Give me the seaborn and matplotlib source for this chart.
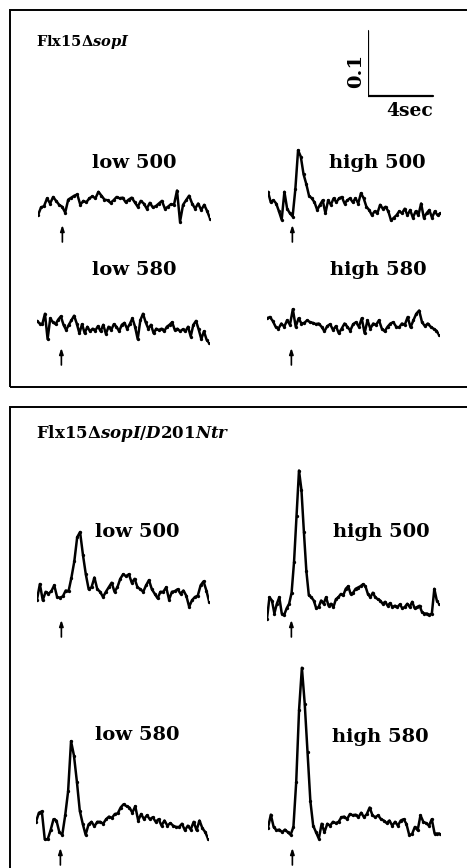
import numpy as np
import matplotlib
matplotlib.use("Agg")
import matplotlib.pyplot as plt
import matplotlib.transforms as mtransforms
from matplotlib.patches import Rectangle
import seaborn as sns

# Absorbance change traces, in units of 0.001 (mA), sampled evenly over DURATION seconds
low500_a = [12, 24, 26, 38, 30, 40, 34, 28, 25, 16, 36, 39, 42, 44, 28, 34, 32, 38, 41, 38,
            48, 42, 36, 35, 31, 35, 40, 38, 39, 32, 36, 39, 32, 25, 34, 30, 22, 31, 24, 26,
            30, 34, 22, 25, 29, 28, 50, 2, 28, 35, 42, 30, 22, 30, 20, 28, 18, 6]
high500_a = [48, 32, 35, 30, 18, 5, 48, 22, 15, 10, 52, 112, 102, 75, 60, 42, 38, 32, 20, 28,
             35, 15, 35, 28, 38, 32, 38, 40, 30, 35, 38, 32, 38, 30, 46, 38, 25, 20, 12, 18,
             15, 28, 22, 25, 18, 4, 8, 12, 18, 15, 22, 12, 20, 8, 18, 12, 30, 8, 15, 20,
             8, 18, 12, 15]
low580_a = [34, 30, 29, 45, 6, 38, 32, 29, 36, 41, 28, 20, 28, 35, 42, 30, 15, 29, 15, 25,
            18, 22, 19, 26, 18, 28, 14, 25, 20, 29, 25, 18, 28, 31, 22, 29, 38, 25, 6, 35,
            45, 32, 22, 28, 15, 22, 20, 22, 18, 25, 28, 32, 20, 22, 18, 21, 18, 25, 10, 28,
            34, 21, 6, 18, 5, 0]
high580_a = [38, 40, 34, 25, 22, 30, 25, 35, 28, 52, 25, 38, 30, 31, 35, 32, 31, 29, 30, 25,
             18, 26, 29, 20, 26, 15, 22, 30, 25, 19, 29, 32, 25, 38, 15, 35, 22, 30, 28, 35,
             22, 18, 25, 30, 32, 25, 24, 30, 28, 40, 24, 35, 45, 50, 32, 26, 30, 25, 22, 19, 12]
low500_b = [16, 40, 15, 28, 25, 29, 38, 20, 19, 21, 30, 29, 50, 75, 112, 120, 85, 55, 32, 35,
            50, 32, 28, 20, 28, 35, 42, 28, 35, 48, 55, 52, 55, 42, 48, 35, 32, 28, 38, 46,
            32, 25, 18, 28, 28, 35, 16, 28, 29, 32, 25, 30, 22, 5, 15, 20, 22, 38, 44, 30, 12]
high500_b = [2, 35, 30, 10, 25, 35, 10, 8, 18, 25, 42, 90, 160, 230, 200, 135, 75, 38, 35, 30,
             18, 20, 30, 25, 35, 22, 25, 20, 32, 35, 40, 38, 48, 52, 40, 42, 48, 50, 52, 55,
             52, 40, 35, 42, 35, 32, 30, 25, 28, 22, 26, 20, 22, 20, 24, 18, 20, 25, 20, 28,
             18, 20, 22, 12, 10, 10, 8, 10, 48, 30, 25]
low580_b = [28, 42, 44, 1, 1, 15, 32, 30, 12, 8, 38, 75, 152, 130, 90, 45, 25, 8, 24, 28,
            21, 28, 28, 25, 32, 36, 34, 40, 41, 50, 55, 52, 50, 42, 52, 30, 40, 32, 38, 32,
            35, 28, 32, 22, 30, 22, 26, 22, 20, 20, 25, 15, 22, 16, 28, 15, 30, 18, 12, 1]
high580_b = [19, 39, 20, 15, 16, 12, 16, 12, 8, 20, 90, 200, 265, 210, 135, 60, 22, 12, 2, 25,
             12, 25, 22, 28, 26, 28, 35, 36, 32, 40, 38, 39, 35, 42, 35, 40, 50, 38, 35, 38,
             32, 30, 26, 30, 22, 28, 22, 30, 32, 25, 8, 9, 20, 15, 38, 28, 26, 22, 32, 10,
             10, 10]

labels_a = ["low 500", "high 500", "low 580", "high 580"]
labels_b = ["low 500", "high 500", "low 580", "high 580"]
title_a = r"Flx15Δ$\mathit{sopI}$"
title_b = r"Flx15Δ$\mathit{sopI/D201Ntr}$"
DURATION = 10.6      # seconds per trace
FLASH_T = 1.5        # time of the flash (arrow)
SCALE_T = 4          # seconds, scale bar
SCALE_A = 100        # mA, scale bar (0.1)

# layout (pixels)
W, H = 467, 868
PX_PER_S = 16.25
PX_PER_MA = 0.65

sns.set_style("white")
plt.rcParams["font.family"] = ["DejaVu Serif", "DejaVu Sans"]
plt.rcParams["text.color"] = "black"
plt.rcParams["mathtext.fontset"] = "custom"
plt.rcParams["mathtext.it"] = "DejaVu Serif:italic:bold"
plt.rcParams["mathtext.rm"] = "DejaVu Serif:bold"

fig = plt.figure(figsize=(W / 100, H / 100), dpi=100)


def fx(px):
    return px / W


def fy(py):
    return 1 - py / H


def trace_axes(x0, y0, below=40, above=200):
    w = DURATION * PX_PER_S
    ax = fig.add_axes([fx(x0), fy(y0 + below), w / W, (below + above) / H])
    ax.set_xlim(0, DURATION)
    ax.set_ylim(-below / PX_PER_MA, above / PX_PER_MA)
    ax.axis("off")
    return ax


# panel boxes
for (top, bottom) in [(10, 387), (407, 880)]:
    fig.patches.append(Rectangle((fx(10), fy(bottom)), fx(480), (bottom - top) / H,
                                 transform=fig.transFigure, fill=False,
                                 edgecolor="black", lw=1.4, clip_on=False))

traces = [
    (low500_a, 38, 223, 242),
    (high500_a, 268, 223, 242),
    (low580_a, 37, 343, 365),
    (high580_a, 267, 343, 365),
    (low500_b, 37, 610, 637),
    (high500_b, 267, 620, 637),
    (low580_b, 36, 840, 865),
    (high580_b, 268, 840, 865),
]
for vals, x0, base, arrow_bottom in traces:
    ax = trace_axes(x0, base)
    t = np.linspace(0, DURATION, len(vals))
    sns.lineplot(x=t, y=vals, ax=ax, color="black", lw=1.8, marker="o",
                 markersize=2.4, markeredgewidth=0)
    tr = mtransforms.blended_transform_factory(ax.transData, fig.transFigure)
    ax.annotate("", xy=(FLASH_T, fy(arrow_bottom - 17)), xycoords=tr,
                xytext=(FLASH_T, fy(arrow_bottom)), textcoords=tr,
                arrowprops=dict(arrowstyle="-|>,head_length=0.35,head_width=0.12",
                                color="black", lw=1.2, shrinkA=0, shrinkB=0),
                annotation_clip=False)

# condition labels
label_pos = [(134, 163), (377, 163), (134, 270), (378, 270),
             (137, 532), (381, 532), (137, 735), (380, 737)]
for txt, (px, py) in zip(labels_a + labels_b, label_pos):
    fig.text(fx(px), fy(py), txt, ha="center", va="center", fontsize=14,
             fontweight="bold")

fig.text(fx(36), fy(42), title_a, ha="left", va="center", fontsize=10.5,
         fontweight="bold")
fig.text(fx(36), fy(434), title_b, ha="left", va="center", fontsize=12,
         fontweight="bold")

# scale bar
sax = trace_axes(368, 96, below=30, above=80)
sns.lineplot(x=[0, 0, SCALE_T], y=[SCALE_A, 0, 0], ax=sax, color="black", lw=1.6,
             sort=False, estimator=None)
fig.text(fx(410), fy(111), "4sec", ha="center", va="center", fontsize=13.5,
         fontweight="bold")
fig.text(fx(356), fy(71), "0.1", ha="center", va="center", fontsize=14,
         fontweight="bold", rotation=90)

fig.savefig("out.png", dpi=100)
